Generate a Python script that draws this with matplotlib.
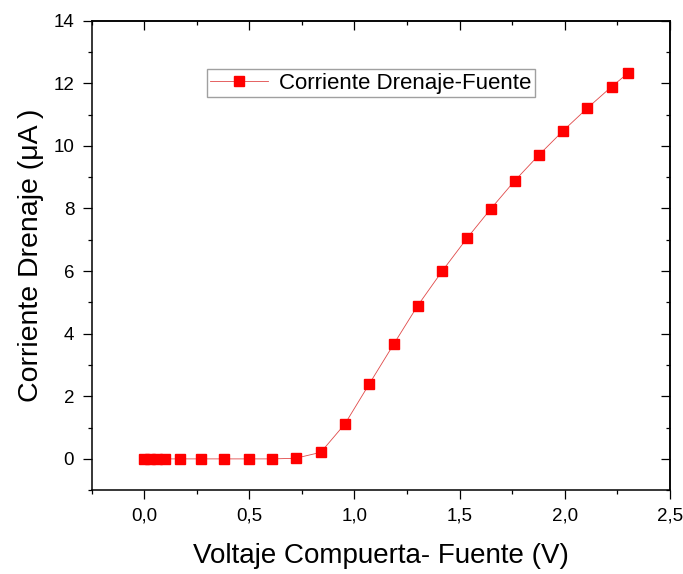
import matplotlib
matplotlib.use("Agg")
import matplotlib.pyplot as plt
from matplotlib.ticker import MultipleLocator

plt.rcParams['font.family'] = ['Liberation Sans', 'DejaVu Sans']

# datos
vgs = [0.0, 0.03, 0.06, 0.1, 0.17, 0.27, 0.38, 0.5, 0.61, 0.72, 0.84,
       0.955, 1.07, 1.186, 1.30, 1.418, 1.535, 1.647, 1.761, 1.877, 1.993,
       2.106, 2.222, 2.30]
id_ua = [0.0, 0.0, 0.0, 0.0, 0.0, 0.0, 0.0, 0.0, 0.0, 0.02, 0.21,
         1.12, 2.39, 3.66, 4.89, 6.01, 7.05, 7.98, 8.88, 9.71, 10.49,
         11.20, 11.89, 12.32]

xticks = [0.0, 0.5, 1.0, 1.5, 2.0, 2.5]
xtick_labels = ["0,0", "0,5", "1,0", "1,5", "2,0", "2,5"]
yticks = [0, 2, 4, 6, 8, 10, 12, 14]
ytick_labels = ["0", "2", "4", "6", "8", "10", "12", "14"]

fig = plt.figure(figsize=(6.83, 5.74), dpi=100)
ax = fig.add_axes([0.134, 0.146, 0.847, 0.818])

ax.plot(vgs, id_ua, color="#e04848", lw=0.6, marker="s", markersize=6.5,
        markerfacecolor="red", markeredgecolor="red",
        label="Corriente Drenaje-Fuente")

ax.set_xlim(-0.25, 2.5)
ax.set_ylim(-1, 14)
ax.set_xticks(xticks)
ax.set_xticklabels(xtick_labels)
ax.set_yticks(yticks)
ax.set_yticklabels(ytick_labels)
ax.xaxis.set_minor_locator(MultipleLocator(0.25))
ax.yaxis.set_minor_locator(MultipleLocator(1))
ax.tick_params(which="major", direction="out", length=6.5, width=0.9,
               labelsize=13.5, pad=6)
ax.tick_params(which="minor", direction="out", length=3, width=0.9)

# ticks interiores arriba y a la derecha
top = ax.secondary_xaxis("top")
top.set_xticks(xticks)
top.xaxis.set_minor_locator(MultipleLocator(0.25))
top.tick_params(which="major", direction="in", length=6.5, width=0.9, labeltop=False)
top.tick_params(which="minor", direction="in", length=3, width=0.9)
right = ax.secondary_yaxis("right")
right.set_yticks(yticks)
right.yaxis.set_minor_locator(MultipleLocator(1))
right.tick_params(which="major", direction="in", length=6.5, width=0.9, labelright=False)
right.tick_params(which="minor", direction="in", length=3, width=0.9)

for s in ax.spines.values():
    s.set_linewidth(1.1)
top.spines["top"].set_linewidth(1.1)
right.spines["right"].set_linewidth(1.1)

ax.set_xlabel("Voltaje Compuerta- Fuente (V)", fontsize=20, labelpad=13)
ax.set_ylabel("Corriente Drenaje (μA )", fontsize=20.5, labelpad=7)

ax.legend(loc="upper left", bbox_to_anchor=(0.199, 0.896), borderaxespad=0,
          fancybox=False, edgecolor="#a0a0a0", framealpha=1, fontsize=16,
          handlelength=2.6, borderpad=0.15, handletextpad=0.5)

fig.savefig("out.png", dpi=100)
